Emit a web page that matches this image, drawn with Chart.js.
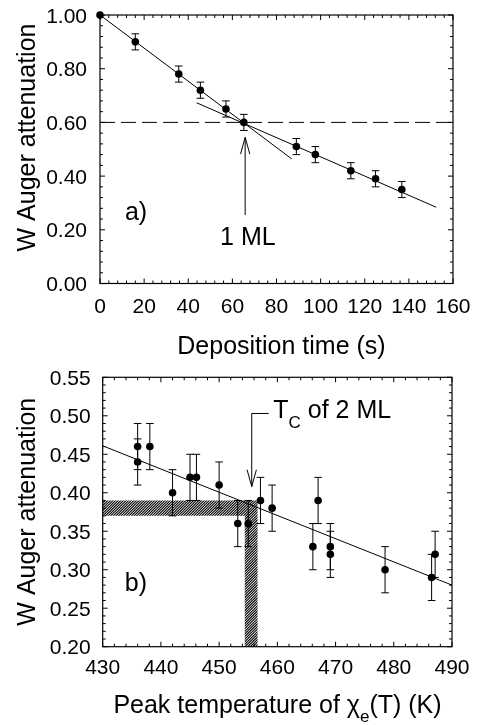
<!DOCTYPE html>
<html>
<head>
<meta charset="utf-8">
<script src="https://cdn.jsdelivr.net/npm/chart.js@4.4.1/dist/chart.umd.min.js"></script>
<style>
  html, body { margin: 0; padding: 0; background: #fff; }
  .panel { position: absolute; left: 0; width: 477px; }
</style>
</head>
<body>
<div class="panel" style="top:0;height:362px"><canvas id="panelA"></canvas></div>
<div class="panel" style="top:362px;height:363px"><canvas id="panelB"></canvas></div>
<script>
  'use strict';

  // ---- panel a) : attenuation vs deposition time ----
  const DEP_TIME = [0, 16.0, 35.7, 45.5, 57.1, 65.2, 89.0, 97.6, 113.7, 124.9, 136.8];
  const DEP_ATT = [1.00, 0.90, 0.78, 0.72, 0.65, 0.60, 0.51, 0.48, 0.42, 0.39, 0.35];
  const DEP_ERR = [0, 0.03, 0.03, 0.03, 0.03, 0.03, 0.03, 0.03, 0.03, 0.03, 0.03];
  const FIT1_TIME = [0, 86.9];
  const FIT1_ATT = [1.00, 0.464];
  const FIT2_TIME = [43.8, 152.4];
  const FIT2_ATT = [0.673, 0.284];
  const ML_LEVEL_TIME = [0, 160];
  const ML_LEVEL_ATT = [0.60, 0.60];
  const A_X_TICKS = [0, 20, 40, 60, 80, 100, 120, 140, 160];
  const A_Y_TICKS = [0, 0.2, 0.4, 0.6, 0.8, 1.0];

  // ---- panel b) : attenuation vs peak temperature ----
  const PEAK_T = [436.0, 436.0, 438.1, 442.0, 445.0, 446.1, 450.0, 453.2, 455.0, 457.1, 459.1,
                  466.1, 467.0, 469.1, 469.1, 478.5, 486.5, 487.1];
  const PEAK_ATT = [0.46, 0.44, 0.46, 0.40, 0.42, 0.42, 0.41, 0.36, 0.36, 0.39, 0.38,
                    0.33, 0.39, 0.33, 0.32, 0.30, 0.29, 0.32];
  const PEAK_ERR = [0.03, 0.03, 0.03, 0.03, 0.03, 0.03, 0.03, 0.03, 0.03, 0.03, 0.03,
                    0.03, 0.03, 0.03, 0.03, 0.03, 0.03, 0.03];
  const FITB_T = [430, 490];
  const FITB_ATT = [0.461, 0.280];
  const TC_BAND_T = [454.4, 456.6];     // vertical hatched band
  const TC_BAND_ATT = [0.37, 0.39];     // horizontal hatched band
  const B_X_TICKS = [430, 440, 450, 460, 470, 480, 490];
  const B_Y_TICKS = [0.20, 0.25, 0.30, 0.35, 0.40, 0.45, 0.50, 0.55];

  const INK = '#000';
  const FONT = '"Liberation Sans", Arial, Helvetica, sans-serif';

  function pts(xs, ys) {
    return xs.map(function (x, i) { return { x: x, y: ys[i] }; });
  }

  function lineSet(xs, ys, dash) {
    return {
      data: pts(xs, ys),
      showLine: true,
      pointRadius: 0,
      borderColor: INK,
      borderWidth: 1,
      borderDash: dash || [],
      fill: false,
    };
  }

  function pointSet(xs, ys) {
    return {
      data: pts(xs, ys),
      showLine: false,
      pointRadius: 3.8,
      pointBackgroundColor: INK,
      pointBorderColor: INK,
      pointBorderWidth: 0,
      clip: false,
    };
  }

  function stepValues(min, max, step) {
    const out = [];
    const n = Math.round((max - min) / step);
    for (let i = 0; i <= n; i++) out.push(min + i * step);
    return out;
  }

  function isMajor(v, majors) {
    return majors.some(function (m) { return Math.abs(m - v) < 1e-6; });
  }

  // text runs: [{t, size, dy}] drawn left to right
  function drawRuns(ctx, runs, x, baseline, align) {
    let total = 0;
    runs.forEach(function (r) {
      ctx.font = r.size + 'px ' + FONT;
      r.w = ctx.measureText(r.t).width;
      total += r.w;
    });
    let cx = align === 'center' ? x - total / 2 : x;
    ctx.textAlign = 'left';
    ctx.textBaseline = 'alphabetic';
    runs.forEach(function (r) {
      ctx.font = r.size + 'px ' + FONT;
      ctx.fillText(r.t, cx, baseline + (r.dy || 0));
      cx += r.w;
    });
  }

  const errorBars = {
    id: 'errorBars',
    beforeDatasetsDraw(chart, args, o) {
      const ctx = chart.ctx;
      const xs = chart.scales.x, ys = chart.scales.y;
      const data = chart.data.datasets[0].data;
      ctx.save();
      ctx.strokeStyle = INK;
      ctx.lineWidth = 1;
      ctx.beginPath();
      data.forEach(function (p, i) {
        const e = o.err[i];
        if (!e) return;
        const px = xs.getPixelForValue(p.x);
        const hi = ys.getPixelForValue(p.y + e);
        const lo = ys.getPixelForValue(p.y - e);
        ctx.moveTo(px, hi); ctx.lineTo(px, lo);
        ctx.moveTo(px - 3.8, hi); ctx.lineTo(px + 3.8, hi);
        ctx.moveTo(px - 3.8, lo); ctx.lineTo(px + 3.8, lo);
      });
      ctx.stroke();
      ctx.restore();
    },
  };

  const hatch = {
    id: 'hatch',
    beforeDatasetsDraw(chart, args, o) {
      if (!o.bandT) return;
      const ctx = chart.ctx;
      const xs = chart.scales.x, ys = chart.scales.y;
      const xl = xs.getPixelForValue(xs.min);
      const x0 = xs.getPixelForValue(o.bandT[0]);
      const x1 = xs.getPixelForValue(o.bandT[1]);
      const y0 = ys.getPixelForValue(o.bandAtt[0]);
      const y1 = ys.getPixelForValue(o.bandAtt[1]);
      const yb = ys.getPixelForValue(ys.min);
      ctx.save();
      ctx.beginPath();
      ctx.rect(xl, y1, x1 - xl, y0 - y1);
      ctx.rect(x0, y1, x1 - x0, yb - y1);
      ctx.clip();
      ctx.strokeStyle = INK;
      ctx.lineWidth = 1.1;
      ctx.beginPath();
      for (let s = xl - (yb - y1); s < x1 + 10; s += 2.6) {
        ctx.moveTo(s, yb);
        ctx.lineTo(s + (yb - y1) + 5, y1 - 5);
      }
      ctx.stroke();
      ctx.restore();
    },
  };

  const notes = {
    id: 'notes',
    afterDatasetsDraw(chart, args, o) {
      const ctx = chart.ctx;
      const xs = chart.scales.x, ys = chart.scales.y;
      ctx.save();
      ctx.strokeStyle = INK;
      ctx.fillStyle = INK;
      ctx.lineWidth = 1;
      (o.arrows || []).forEach(function (path) {
        const p = path.map(function (q) { return [xs.getPixelForValue(q[0]), ys.getPixelForValue(q[1])]; });
        ctx.beginPath();
        ctx.moveTo(p[0][0], p[0][1]);
        for (let i = 1; i < p.length; i++) ctx.lineTo(p[i][0], p[i][1]);
        const tip = p[p.length - 1], prev = p[p.length - 2];
        const ang = Math.atan2(tip[1] - prev[1], tip[0] - prev[0]);
        const len = 17.5, half = 0.27;
        ctx.moveTo(tip[0] - len * Math.cos(ang - half), tip[1] - len * Math.sin(ang - half));
        ctx.lineTo(tip[0], tip[1]);
        ctx.lineTo(tip[0] - len * Math.cos(ang + half), tip[1] - len * Math.sin(ang + half));
        ctx.stroke();
      });
      (o.labels || []).forEach(function (l) {
        drawRuns(ctx, l.runs, xs.getPixelForValue(l.at[0]), ys.getPixelForValue(l.at[1]), l.align);
      });
      ctx.restore();
    },
  };

  const frame = {
    id: 'frame',
    afterDraw(chart, args, o) {
      const ctx = chart.ctx;
      const a = chart.chartArea;
      const xs = chart.scales.x, ys = chart.scales.y;
      ctx.save();
      ctx.strokeStyle = INK;
      ctx.lineWidth = 1.2;
      ctx.strokeRect(a.left, a.top, a.right - a.left, a.bottom - a.top);
      ctx.lineWidth = 1;
      ctx.beginPath();
      stepValues(xs.min, xs.max, o.xMinor).forEach(function (v) {
        const len = isMajor(v, o.xTicks) ? 5 : 3;
        const px = xs.getPixelForValue(v);
        ctx.moveTo(px, a.bottom); ctx.lineTo(px, a.bottom - len);
        ctx.moveTo(px, a.top); ctx.lineTo(px, a.top + len);
      });
      stepValues(ys.min, ys.max, o.yMinor).forEach(function (v) {
        const len = isMajor(v, o.yTicks) ? 5 : 3;
        const py = ys.getPixelForValue(v);
        ctx.moveTo(a.left, py); ctx.lineTo(a.left + len, py);
        ctx.moveTo(a.right, py); ctx.lineTo(a.right - len, py);
      });
      ctx.stroke();

      ctx.fillStyle = INK;
      ctx.font = '21px ' + FONT;
      ctx.textBaseline = 'alphabetic';
      ctx.textAlign = 'center';
      o.xTicks.forEach(function (v) {
        ctx.fillText(v.toFixed(o.xDec), xs.getPixelForValue(v), a.bottom + o.xLabelDrop);
      });
      ctx.textAlign = 'right';
      o.yTicks.forEach(function (v) {
        ctx.fillText(v.toFixed(o.yDec), a.left - o.yLabelGap, ys.getPixelForValue(v) + 7.5);
      });

      ctx.font = '25px ' + FONT;
      ctx.save();
      ctx.translate(35, o.yTitleY);
      ctx.rotate(-Math.PI / 2);
      ctx.textAlign = 'center';
      ctx.fillText(o.yTitle, 0, 0);
      ctx.restore();

      drawRuns(ctx, o.xTitle, o.xTitleX, o.xTitleBase, 'center');
      ctx.restore();
    },
  };

  function baseOptions(pad, xr, yr, pluginOpts) {
    return {
      responsive: true,
      maintainAspectRatio: false,
      animation: false,
      events: [],
      layout: { padding: pad },
      plugins: Object.assign({ legend: { display: false }, tooltip: { enabled: false } }, pluginOpts),
      scales: {
        x: { type: 'linear', display: false, min: xr[0], max: xr[1] },
        y: { type: 'linear', display: false, min: yr[0], max: yr[1] },
      },
    };
  }

  new Chart(document.getElementById('panelA'), {
    type: 'scatter',
    data: {
      datasets: [
        pointSet(DEP_TIME, DEP_ATT),
        lineSet(FIT1_TIME, FIT1_ATT),
        lineSet(FIT2_TIME, FIT2_ATT),
        lineSet(ML_LEVEL_TIME, ML_LEVEL_ATT, [15, 6]),
      ],
    },
    options: baseOptions({ left: 100, right: 24, top: 15, bottom: 78.5 }, [0, 160], [0, 1], {
      errorBars: { err: DEP_ERR },
      hatch: {},
      notes: {
        arrows: [[[65.8, 0.255], [65.8, 0.5445]]],
        labels: [
          { runs: [{ t: 'a)', size: 25 }], at: [11.3, 0.2365], align: 'left' },
          { runs: [{ t: '1 ML', size: 25 }], at: [67.0, 0.143], align: 'center' },
        ],
      },
      frame: {
        xTicks: A_X_TICKS, xMinor: 4, xDec: 0, xLabelDrop: 29.5,
        yTicks: A_Y_TICKS, yMinor: 0.04, yDec: 2, yLabelGap: 13,
        yTitle: 'W Auger attenuation', yTitleY: 137.5,
        xTitle: [{ t: 'Deposition time (s)', size: 25 }], xTitleX: 281.5, xTitleBase: 353.5,
      },
    }),
    plugins: [errorBars, hatch, notes, frame],
  });

  new Chart(document.getElementById('panelB'), {
    type: 'scatter',
    data: {
      datasets: [
        pointSet(PEAK_T, PEAK_ATT),
        lineSet(FITB_T, FITB_ATT),
      ],
    },
    options: baseOptions({ left: 102.7, right: 25, top: 15.3, bottom: 78.3 }, [430, 490], [0.2, 0.55], {
      errorBars: { err: PEAK_ERR },
      hatch: { bandT: TC_BAND_T, bandAtt: TC_BAND_ATT },
      notes: {
        arrows: [[[458.5, 0.503], [455.6, 0.503], [455.6, 0.408]]],
        labels: [
          { runs: [{ t: 'b)', size: 25 }], at: [433.8, 0.272], align: 'left' },
          { runs: [{ t: 'T', size: 25 }, { t: 'C', size: 17, dy: 10 }, { t: ' of 2 ML', size: 25 }],
            at: [459.3, 0.4967], align: 'left' },
        ],
      },
      frame: {
        xTicks: B_X_TICKS, xMinor: 2, xDec: 0, xLabelDrop: 27.5,
        yTicks: B_Y_TICKS, yMinor: 0.01, yDec: 2, yLabelGap: 12,
        yTitle: 'W Auger attenuation', yTitleY: 149.7,
        xTitle: [{ t: 'Peak temperature of \u03c7', size: 25 }, { t: 'e', size: 17, dy: 9 }, { t: '(T) (K)', size: 25 }],
        xTitleX: 277.5, xTitleBase: 350.7,
      },
    }),
    plugins: [errorBars, hatch, notes, frame],
  });
</script>
</body>
</html>
